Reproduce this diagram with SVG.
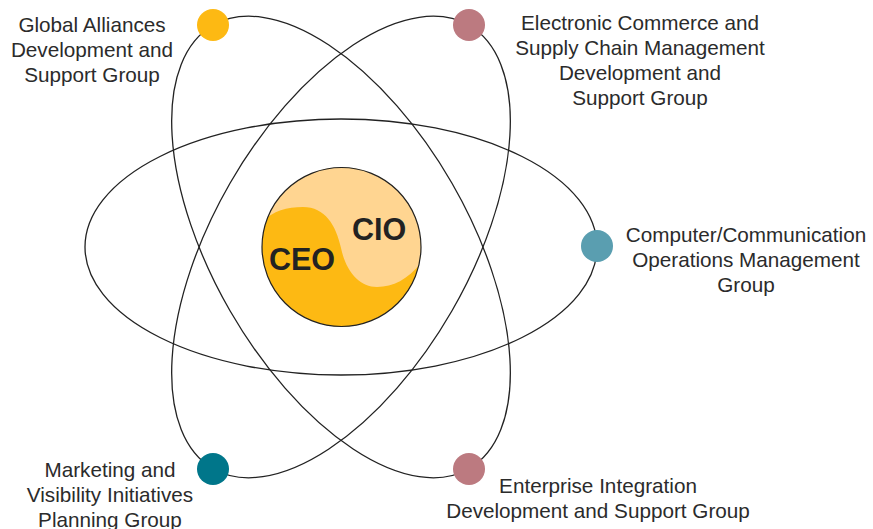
<svg xmlns="http://www.w3.org/2000/svg" width="873" height="529" viewBox="0 0 873 529">
<style>
.orbit{fill:none;stroke:#222;stroke-width:1.3}
.lbl{font-family:"Liberation Sans",Arial,sans-serif;font-size:20.7px;fill:#2b2b2b;text-anchor:middle}
.core{font-family:"Liberation Sans",Arial,sans-serif;font-size:30.5px;font-weight:bold;fill:#222;text-anchor:middle}
</style>
<defs>
<clipPath id="cc"><circle cx="341.5" cy="247" r="79.5"/></clipPath>
</defs>
<rect width="873" height="529" fill="#fff"/>
<g id="connectors">
<ellipse class="orbit" cx="341" cy="247" rx="256" ry="128"/>
<ellipse class="orbit" cx="341" cy="247" rx="256" ry="128" transform="rotate(60 341 247)"/>
<ellipse class="orbit" cx="341" cy="247" rx="256" ry="128" transform="rotate(-60 341 247)"/>
</g>
<g id="core">
<circle cx="341.5" cy="247" r="79.5" fill="#FDB913"/>
<path clip-path="url(#cc)" fill="#FFD591" d="M250 228 L258 226 C270 212 285 207 303 207 C325 207 336 225 341 248 C346 272 360 287 377 287 C395 287 410 278 425 258 L430 150 L250 150 Z"/>
<circle cx="341.5" cy="247" r="79.5" fill="none" stroke="#222" stroke-width="1.2"/>
<text class="core" x="379" y="240">CIO</text>
<text class="core" x="302" y="270">CEO</text>
</g>
<g id="n-global">
<circle cx="213" cy="25" r="16" fill="#FDB913"/>
<text class="lbl" x="92" y="32">Global Alliances</text>
<text class="lbl" x="92" y="57">Development and</text>
<text class="lbl" x="92" y="82">Support Group</text>
</g>
<g id="n-ecommerce">
<circle cx="469" cy="25" r="16" fill="#BC7A80"/>
<text class="lbl" x="640" y="30">Electronic Commerce and</text>
<text class="lbl" x="640" y="55">Supply Chain Management</text>
<text class="lbl" x="640" y="80">Development and</text>
<text class="lbl" x="640" y="105">Support Group</text>
</g>
<g id="n-computer">
<circle cx="597" cy="246" r="16" fill="#5A9EB0"/>
<text class="lbl" x="746" y="242">Computer/Communication</text>
<text class="lbl" x="746" y="267">Operations Management</text>
<text class="lbl" x="746" y="292">Group</text>
</g>
<g id="n-marketing">
<circle cx="213" cy="469" r="16" fill="#00768A"/>
<text class="lbl" x="110" y="477">Marketing and</text>
<text class="lbl" x="110" y="502">Visibility Initiatives</text>
<text class="lbl" x="110" y="527">Planning Group</text>
</g>
<g id="n-enterprise">
<circle cx="469" cy="469" r="16" fill="#BC7A80"/>
<text class="lbl" x="598" y="493">Enterprise Integration</text>
<text class="lbl" x="598" y="518">Development and Support Group</text>
</g>
</svg>
